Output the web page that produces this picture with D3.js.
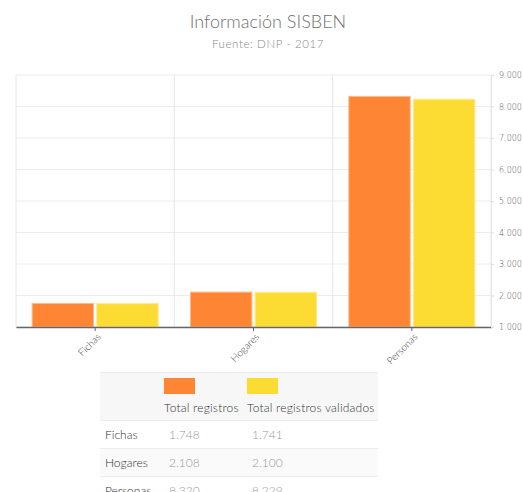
<!DOCTYPE html>
<html>
<head>
<meta charset="utf-8">
<script src="https://cdn.jsdelivr.net/npm/d3@7"></script>
<style>
  body { margin: 0; background: #fff; font-family: "Lato", sans-serif; font-weight: 300; }
  #chart { position: absolute; left: 0; top: 0; }
  table { position: absolute; left: 100px; top: 372px; width: 278px; border-collapse: collapse; font-size: 12px; color: #333; table-layout: fixed; }
  td { border-top: 1px solid #ececec; padding: 0; height: 27px; line-height: 14px; white-space: nowrap; }
  tr.head td { background: #f7f7f7; height: 42px; vertical-align: bottom; padding-bottom: 5px; letter-spacing: 0.2px; }
  tr.alt td { background: #fafafa; }
  td.val { color: #999; }
  .sw { display: block; width: 31px; height: 16px; margin-bottom: 7px; }
</style>
</head>
<body>
<svg id="chart" width="523" height="372"></svg>
<table id="tbl"></table>
<script>
const categories = ["Fichas", "Hogares", "Personas"];
const series_names = ["Total registros", "Total registros validados"];
const total_registros = [1748, 2108, 8320];
const total_validados = [1741, 2100, 8229];
const y_ticks = [1000, 2000, 3000, 4000, 5000, 6000, 7000, 8000, 9000];
const colors = ["#fe8533", "#fcdb33"];
const strokes = ["#ffb98a", "#fde98a"];

const svg = d3.select("#chart");
const plot_left = 16, plot_right = 491, plot_top = 75, plot_bottom = 327;
const fmt = d3.format(",");
const dot = v => fmt(v).replace(/,/g, ".");

svg.append("text").attr("x", 268).attr("y", 28).attr("text-anchor", "middle")
  .style("font-size", "18px").style("fill", "#707070").style("font-weight", 300)
  .text("Información SISBEN");
svg.append("text").attr("x", 268).attr("y", 48).attr("text-anchor", "middle")
  .style("font-size", "11.5px").style("fill", "#888").style("font-weight", 300)
  .style("letter-spacing", "0.6px")
  .text("Fuente: DNP - 2017");

var x = d3.scaleBand().domain(categories).range([plot_left, plot_right]);
var x1 = d3.scaleBand().domain(series_names).range([0, x.bandwidth()]).paddingInner(0.05).paddingOuter(0.25);
var y = d3.scaleLinear().domain([1000, 9000]).range([plot_bottom, plot_top]);

// grid
svg.append("g").selectAll("line").data(y_ticks).enter().append("line")
  .attr("x1", plot_left).attr("x2", plot_right).attr("y1", d => y(d)).attr("y2", d => y(d))
  .attr("stroke", "#ececec");
svg.append("g").selectAll("line").data(categories.concat(["end"])).enter().append("line")
  .attr("x1", (d, i) => plot_left + i * x.bandwidth()).attr("x2", (d, i) => plot_left + i * x.bandwidth())
  .attr("y1", plot_top).attr("y2", plot_bottom).attr("stroke", "#e6e6e6");

// bars
var groups = svg.append("g").selectAll("g").data(categories).enter().append("g")
  .attr("transform", d => "translate(" + x(d) + ",0)");
groups.selectAll("rect").data((d, i) => [total_registros[i], total_validados[i]]).enter().append("rect")
  .attr("x", (d, j) => x1(series_names[j]))
  .attr("width", x1.bandwidth())
  .attr("y", d => y(d))
  .attr("height", d => plot_bottom - y(d))
  .attr("fill", (d, j) => colors[j])
  .attr("stroke", (d, j) => strokes[j])
  .attr("stroke-width", 1);

// x axis
var xAxis = svg.append("g").attr("transform", "translate(0," + plot_bottom + ")")
  .call(d3.axisBottom(x).tickSize(4).tickSizeOuter(0));
xAxis.select(".domain").attr("stroke", "#666").attr("stroke-width", 1.5);
xAxis.selectAll(".tick line").attr("stroke", "#666");
xAxis.selectAll("text")
  .attr("transform", "rotate(-45)")
  .attr("text-anchor", "end").attr("dx", "-0.3em").attr("dy", "0.5em")
  .style("font-family", "Lato").style("font-weight", 300).style("font-size", "10px").style("fill", "#444");

// y axis on the right
var yAxis = svg.append("g").attr("transform", "translate(" + plot_right + ",0)")
  .call(d3.axisRight(y).tickValues(y_ticks).tickFormat(dot).tickSize(3).tickSizeOuter(0));
yAxis.select(".domain").attr("stroke", "#e6e6e6");
yAxis.selectAll(".tick line").attr("stroke", "#ddd");
yAxis.selectAll("text").attr("x", 8)
  .style("font-family", "DejaVu Sans").style("font-size", "8px").style("fill", "#555");

// table
var tbl = d3.select("#tbl");
var head = tbl.append("tr").attr("class", "head");
head.append("td").style("width", "64px");
series_names.forEach(function (s, j) {
  var td = head.append("td").style("width", j == 0 ? "83px" : "auto");
  td.append("span").attr("class", "sw").style("background", colors[j]);
  td.append("span").text(s);
});
categories.forEach(function (c, i) {
  var tr = tbl.append("tr").attr("class", i == 1 ? "alt" : null);
  tr.append("td").style("padding-left", "5px").text(c);
  tr.append("td").attr("class", "val").style("padding-left", "5px").text(dot(total_registros[i]));
  tr.append("td").attr("class", "val").style("padding-left", "5px").text(dot(total_validados[i]));
});
</script>
</body>
</html>
